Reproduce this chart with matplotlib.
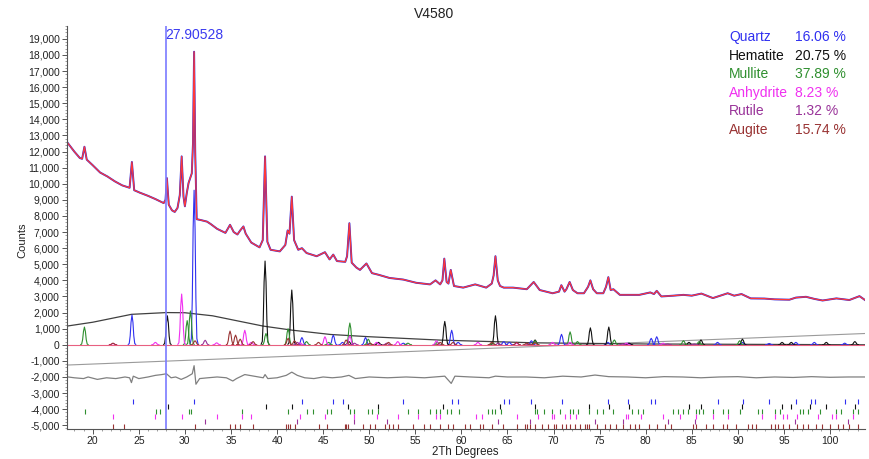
import numpy as np
import matplotlib
matplotlib.use('Agg')
import matplotlib.pyplot as plt
from matplotlib.collections import LineCollection
from matplotlib.ticker import FuncFormatter, MultipleLocator

plt.rcParams['font.family'] = ['Liberation Sans', 'DejaVu Sans']

title = 'V4580'
cursor_pos = 27.90528

obs_x = [17.2, 18.0, 18.6, 18.85, 19.1, 19.35, 20.0, 20.8, 21.6, 22.4, 23.2, 24.0, 24.25, 24.5,
         25.1, 26.0, 26.8, 27.7, 27.9, 28.05, 28.25, 28.6, 28.9, 29.2, 29.45, 29.65, 29.85,
         30.0, 30.2, 30.4, 30.6, 30.75, 30.88, 31.0, 31.12, 31.28, 31.7, 32.4, 32.8, 33.5,
         34.4, 34.9, 35.3, 35.7, 36.0, 36.35, 36.6, 37.2, 38.1, 38.45, 38.7, 38.95, 39.3,
         40.3, 40.9, 41.15, 41.35, 41.6, 41.85, 42.3, 42.7, 43.2, 44.3, 45.2, 45.7, 46.1,
         46.5, 47.4, 47.6, 47.85, 48.1, 48.6, 49.0, 49.7, 50.3, 51.0, 52.2, 53.7, 55.1,
         56.6, 57.2, 57.7, 57.95, 58.15, 58.4, 58.6, 58.85, 59.2, 60.2, 61.5, 62.7, 63.3,
         63.5, 63.7, 63.95, 64.2, 64.6, 65.6, 67.1, 67.85, 68.5, 69.9, 70.6, 70.85, 71.2,
         71.4, 71.75, 72.1, 72.6, 73.3, 73.75, 74.0, 74.3, 74.7, 75.4, 75.7, 75.95, 76.2,
         76.5, 77.2, 79.3, 80.5, 80.9, 81.2, 81.7, 83.0, 84.1, 85.0, 86.05, 87.3, 88.9,
         89.6, 90.4, 91.4, 92.9, 94.0, 95.6, 96.3, 97.4, 98.3, 99.2, 100.7, 102.1, 103.2, 103.8]
obs_y = [12600, 12000, 11600, 11550, 12300, 11500, 11150, 10700, 10450, 10150, 9900, 9750, 11350, 9600,
         9450, 9250, 9050, 8800, 9000, 10350, 8700, 8350, 8250, 8500, 9300, 11700, 9200,
         8600, 9400, 10050, 10400, 10650, 12500, 18200, 12000, 7800, 7750, 7650, 7500, 7200,
         6950, 7450, 7000, 6850, 7100, 7350, 6900, 6350, 6050, 6500, 11700, 6400, 5900,
         5800, 6200, 7100, 6900, 9200, 6500, 5900, 6000, 5700, 5500, 5750, 5300, 5600,
         5200, 5150, 5500, 7550, 5100, 4800, 4650, 5050, 4450, 4350, 4150, 4050, 3850,
         3750, 4000, 3750, 4000, 5350, 3900, 3800, 4650, 3650, 3550, 3750, 3550, 3800,
         4300, 5500, 4000, 3650, 3550, 3550, 3450, 3900, 3400, 3200, 3300, 3700, 3300,
         3450, 3900, 3400, 3200, 3200, 3600, 4000, 3450, 3200, 3200, 3600, 4200, 3400,
         3450, 3100, 3100, 3250, 3150, 3350, 3000, 3050, 3100, 3050, 3180, 2900, 3200,
         3050, 3150, 2880, 2870, 2820, 2800, 2930, 2980, 2850, 2750, 2880, 2780, 3020, 2780]

# difference curve
diff_x = [17.2, 18.0, 19.0, 19.5, 20.5, 21.5, 22.5, 23.5, 24.0, 24.2, 24.4, 25.0, 26.0, 26.8,
          27.5, 28.0, 28.5, 29.0, 29.6, 30.2, 30.8, 31.0, 31.2, 31.6, 32.5, 33.5, 34.5, 35.2,
          35.6, 36.5, 37.5, 38.5, 38.7, 39.0, 40.0, 41.0, 41.6, 42.2, 43.0, 44.0, 45.0, 46.0,
          47.0, 47.8, 48.5, 50.0, 52.0, 54.0, 56.0, 58.2, 58.9, 59.3, 61.0, 63.0, 63.7, 65.0,
          67.0, 69.0, 71.0, 73.0, 74.5, 76.0, 78.0, 80.0, 82.0, 84.0, 86.0, 88.0, 90.0, 92.0,
          94.0, 96.0, 98.0, 100.0, 102.0, 103.8]
diff_y = [-1990, -2050, -2100, -2000, -2150, -2050, -2100, -2000, -2050, -2350, -1950, -2100, -2000, -1900,
          -1850, -1800, -2050, -2000, -2150, -2000, -1800, -1300, -2450, -2100, -2050, -2000, -2050, -2250,
          -2100, -1850, -1950, -2050, -1850, -2100, -2050, -1900, -1700, -1900, -2050, -2100, -2000, -2050,
          -2000, -1900, -2100, -2000, -2050, -2000, -2050, -1950, -2400, -1950, -2000, -2050, -1950, -2000,
          -2000, -2050, -1950, -2000, -1880, -1980, -2000, -2050, -1980, -2000, -2050, -2000, -1980, -2050,
          -2000, -2030, -1980, -2020, -2000, -2000]

# amorphous hump and linear background
hump_x = [17.2, 20.0, 24.2, 28.0, 30.0, 33.0, 36.0, 38.5, 41.6, 45.8, 50.0, 57.7, 68.0, 80.0, 103.8]
hump_y = [1160, 1400, 1890, 2000, 1990, 1800, 1450, 1160, 910, 640, 500, 290, 120, 50, 0]
line_x = [17.2, 103.8]
line_y = [-1260, 700]

phases = ['Quartz', 'Hematite', 'Mullite', 'Anhydrite', 'Rutile', 'Augite']
percents = ['16.06 %', '20.75 %', '37.89 %', '8.23 %', '1.32 %', '15.74 %']
colors = ['#3030f0', '#111111', '#2f8f2f', '#f030f0', '#993399', '#993333']

quartz_pos = [24.26, 31.0, 42.7, 46.1, 47.1, 49.6, 53.7, 58.95, 59.65, 64.6, 65.2, 67.6, 70.87,
              75.9, 78.1, 80.6, 81.2, 87.8, 90.5, 93.4, 96.3, 98.3, 101.6]
quartz_h = [1850, 9600, 450, 600, 150, 450, 100, 900, 150, 200, 150, 250, 650,
            150, 100, 400, 500, 150, 150, 80, 150, 150, 100]
hematite_pos = [28.1, 38.7, 41.6, 47.8, 51.0, 58.2, 63.7, 68.0, 74.0, 76.0, 78.2, 84.7, 86.0,
                90.5, 94.8, 95.8, 99.6, 102.7]
hematite_h = [1800, 5200, 3400, 200, 150, 1450, 1800, 300, 1050, 1100, 100, 150, 300,
              350, 150, 150, 150, 200]
mullite_pos = [19.1, 30.25, 30.6, 38.8, 41.2, 43.2, 45.6, 47.9, 49.9, 54.2, 57.4, 63.4, 68.0,
               71.8, 72.6, 76.6, 84.1, 85.8, 90.2]
mullite_h = [1100, 1500, 2100, 700, 1000, 200, 150, 1350, 350, 100, 150, 120, 250,
             800, 200, 300, 250, 200, 250]
anhydrite_pos = [22.2, 26.8, 29.65, 33.45, 36.5, 37.2, 42.5, 45.2, 47.9, 50.8, 53.1, 57.3, 61.8,
                 66.0, 69.9, 71.8, 77.9, 81.9]
anhydrite_h = [80, 150, 3150, 120, 900, 150, 120, 500, 550, 150, 200, 250, 150,
               100, 150, 150, 100, 100]
rutile_pos = [32.2, 42.2, 48.4, 51.9, 64.0, 67.4, 77.5, 82.4, 85.3]
rutile_h = [280, 150, 100, 100, 100, 50, 50, 50, 50]
augite_pos = [22.2, 31.1, 34.9, 35.5, 36.0, 37.4, 41.2, 41.9, 44.5, 47.5, 50.1, 52.1, 57.7,
              59.1, 63.3, 66.0, 67.1, 68.0]
augite_h = [100, 250, 850, 600, 350, 200, 400, 250, 150, 300, 100, 150, 150,
            150, 150, 150, 100, 120]

# reflection markers (tick rows under the pattern)
quartz_ticks = [24.34, 30.99, 42.7, 46.1, 47.11, 53.69, 58.94, 59.65, 64.61, 65.18, 67.54, 70.87,
                75.92, 78.09, 80.63, 80.99, 87.85, 90.56, 93.38, 96.36, 97.98, 98.34, 101.6, 103.0]
hematite_ticks = [28.2, 38.8, 41.65, 47.7, 51.0, 58.0, 64.2, 68.0, 73.9, 76.0, 78.2, 84.7, 86.05,
                  90.5, 94.8, 95.8, 97.8, 99.6, 102.7]
mullite_ticks = [19.2, 26.9, 27.3, 30.4, 30.7, 36.2, 41.2, 43.2, 43.9, 45.4, 45.9, 47.9, 48.3,
                 49.9, 50.3, 51.0, 54.2, 55.3, 56.6, 57.3, 57.7, 58.4, 58.9, 59.7, 62.9, 63.3,
                 63.6, 64.35, 68.0, 68.2, 69.0, 69.8, 70.7, 71.8, 72.1, 72.7, 73.9, 74.7, 75.4,
                 76.5, 78.5, 79.2, 79.7, 83.0, 83.5, 84.1, 84.6, 85.5, 85.8, 86.2, 87.3, 88.4,
                 88.9, 90.2, 92.2, 92.6, 94.0, 94.6, 96.7, 97.1, 97.6, 98.9, 100.7, 101.2,
                 102.5, 103.0]
anhydrite_ticks = [22.2, 26.8, 29.65, 33.45, 36.2, 37.2, 42.5, 45.2, 48.3, 50.8, 53.1, 55.3,
                   57.3, 57.7, 61.6, 62.2, 66.0, 68.3, 69.8, 70.0, 71.3, 71.8, 72.4, 77.9, 78.1,
                   79.5, 81.9, 83.7, 85.5, 87.3, 88.9, 92.6, 94.0, 94.9, 95.3, 96.4, 98.7,
                   100.2, 100.7, 102.5]
rutile_ticks = [32.2, 42.2, 48.4, 51.9, 64.0, 67.4, 74.5, 77.5, 82.4, 85.3, 96.2, 102.0]
augite_ticks = [22.2, 23.4, 31.1, 34.9, 35.4, 36.0, 37.4, 41.0, 41.2, 41.4, 41.9, 44.5, 45.4,
                47.4, 47.5, 47.7, 49.35, 50.1, 50.6, 51.7, 52.1, 52.6, 53.1, 54.8, 55.9, 56.6,
                57.7, 58.6, 59.1, 60.4, 60.9, 62.0, 62.4, 63.3, 64.5, 66.0, 66.9, 67.1, 67.4,
                68.0, 68.7, 69.4, 70.0, 70.3, 70.9, 71.4, 71.8, 72.3, 72.9, 73.4, 73.6, 73.9,
                74.7, 75.6, 76.1, 76.8, 77.5, 78.3, 78.8, 79.3, 80.4, 81.2, 82.1, 82.8, 85.1,
                85.5, 86.6, 87.3, 88.4, 88.8, 89.8, 91.1, 91.5, 92.0, 93.6, 94.0, 94.4, 94.9,
                95.6, 96.4, 97.1, 97.6, 98.5, 99.1, 100.0, 100.9, 101.4, 102.1, 103.0]
tick_rows = [-3540, -3850, -4160, -4470, -4780, -5090]

y_ticks = list(range(-5000, 20000, 1000))
x_ticks = list(range(20, 105, 5))


def peak_segments(pos, h, w=0.15):
    # simple bell shape per reflection
    dx = np.array([-3, -2, -1.3, -0.7, 0, 0.7, 1.3, 2, 3]) * w
    fy = np.array([0, 0.04, 0.3, 0.75, 1, 0.75, 0.3, 0.04, 0])
    return [np.column_stack([p + dx, hh * fy]) for p, hh in zip(pos, h)]


def main():
    fig = plt.figure(figsize=(8.69, 4.59), dpi=100)
    ax = fig.add_axes([0.0768, 0.0654, 0.9186, 0.878])

    ax.plot(line_x, line_y, color='#9a9a9a', lw=0.8)
    ax.plot(hump_x, hump_y, color='#404040', lw=0.9)

    peaks = [(quartz_pos, quartz_h), (hematite_pos, hematite_h), (mullite_pos, mullite_h),
             (anhydrite_pos, anhydrite_h), (rutile_pos, rutile_h), (augite_pos, augite_h)]
    for (pos, h), c in zip(peaks, colors):
        ax.add_collection(LineCollection(peak_segments(pos, h), colors=c, linewidths=0.8))
    ax.axhline(0, color='#e86080', lw=0.8)

    ax.plot(diff_x, diff_y, color='#808080', lw=0.9)
    ax.plot(obs_x, obs_y, color='#2a2ae0', lw=1.4)
    ax.plot(obs_x, obs_y, color='#ff3838', lw=0.9)

    ticks = [quartz_ticks, hematite_ticks, mullite_ticks, anhydrite_ticks, rutile_ticks, augite_ticks]
    for t, row, c in zip(ticks, tick_rows, colors):
        ax.vlines(t, row - 150, row + 150, colors=c, lw=0.8)

    ax.axvline(cursor_pos, color='#7a7aff', lw=1.2)
    ax.text(cursor_pos, 0.995, '%.5f' % cursor_pos, transform=ax.get_xaxis_transform(),
            ha='left', va='top', color='#3a3af0', fontsize=10)

    ax.set_xlim(17.18, 103.8)
    ax.set_ylim(-5230, 19800)
    ax.set_xticks(x_ticks)
    ax.set_yticks(y_ticks)
    ax.xaxis.set_minor_locator(MultipleLocator(1))
    ax.yaxis.set_minor_locator(MultipleLocator(200))
    ax.yaxis.set_major_formatter(FuncFormatter(lambda v, p: '{:,}'.format(int(v))))
    ax.tick_params(labelsize=7.5, length=3.5, width=0.7, color='#555555', pad=1.5, labelcolor='#222222')
    ax.tick_params(which='minor', length=1.5, width=0.5, color='#777777')
    for s in ['top', 'right']:
        ax.spines[s].set_visible(False)
    for s in ['left', 'bottom']:
        ax.spines[s].set_color('#555555')
        ax.spines[s].set_linewidth(0.8)

    fig.text(0.5, 1 - 14 / 459, title, ha='center', va='center', fontsize=10, color='#222222')
    fig.text(465 / 869, 1 - 451.5 / 459, '2Th Degrees', ha='center', va='center', fontsize=8.3,
             color='#222222')
    fig.text(22 / 869, 1 - 240 / 459, 'Counts', ha='center', va='center', rotation=90,
             fontsize=8, color='#222222')

    for i, (name, pc, c) in enumerate(zip(phases, percents, colors)):
        y = 1 - (37 + i * 18.6) / 459
        fig.text(729 / 869, y, name, color=c, fontsize=10, va='center')
        fig.text(795 / 869, y, pc, color=c, fontsize=10, va='center')

    fig.savefig('out.png', dpi=100)


if __name__ == '__main__':
    main()
